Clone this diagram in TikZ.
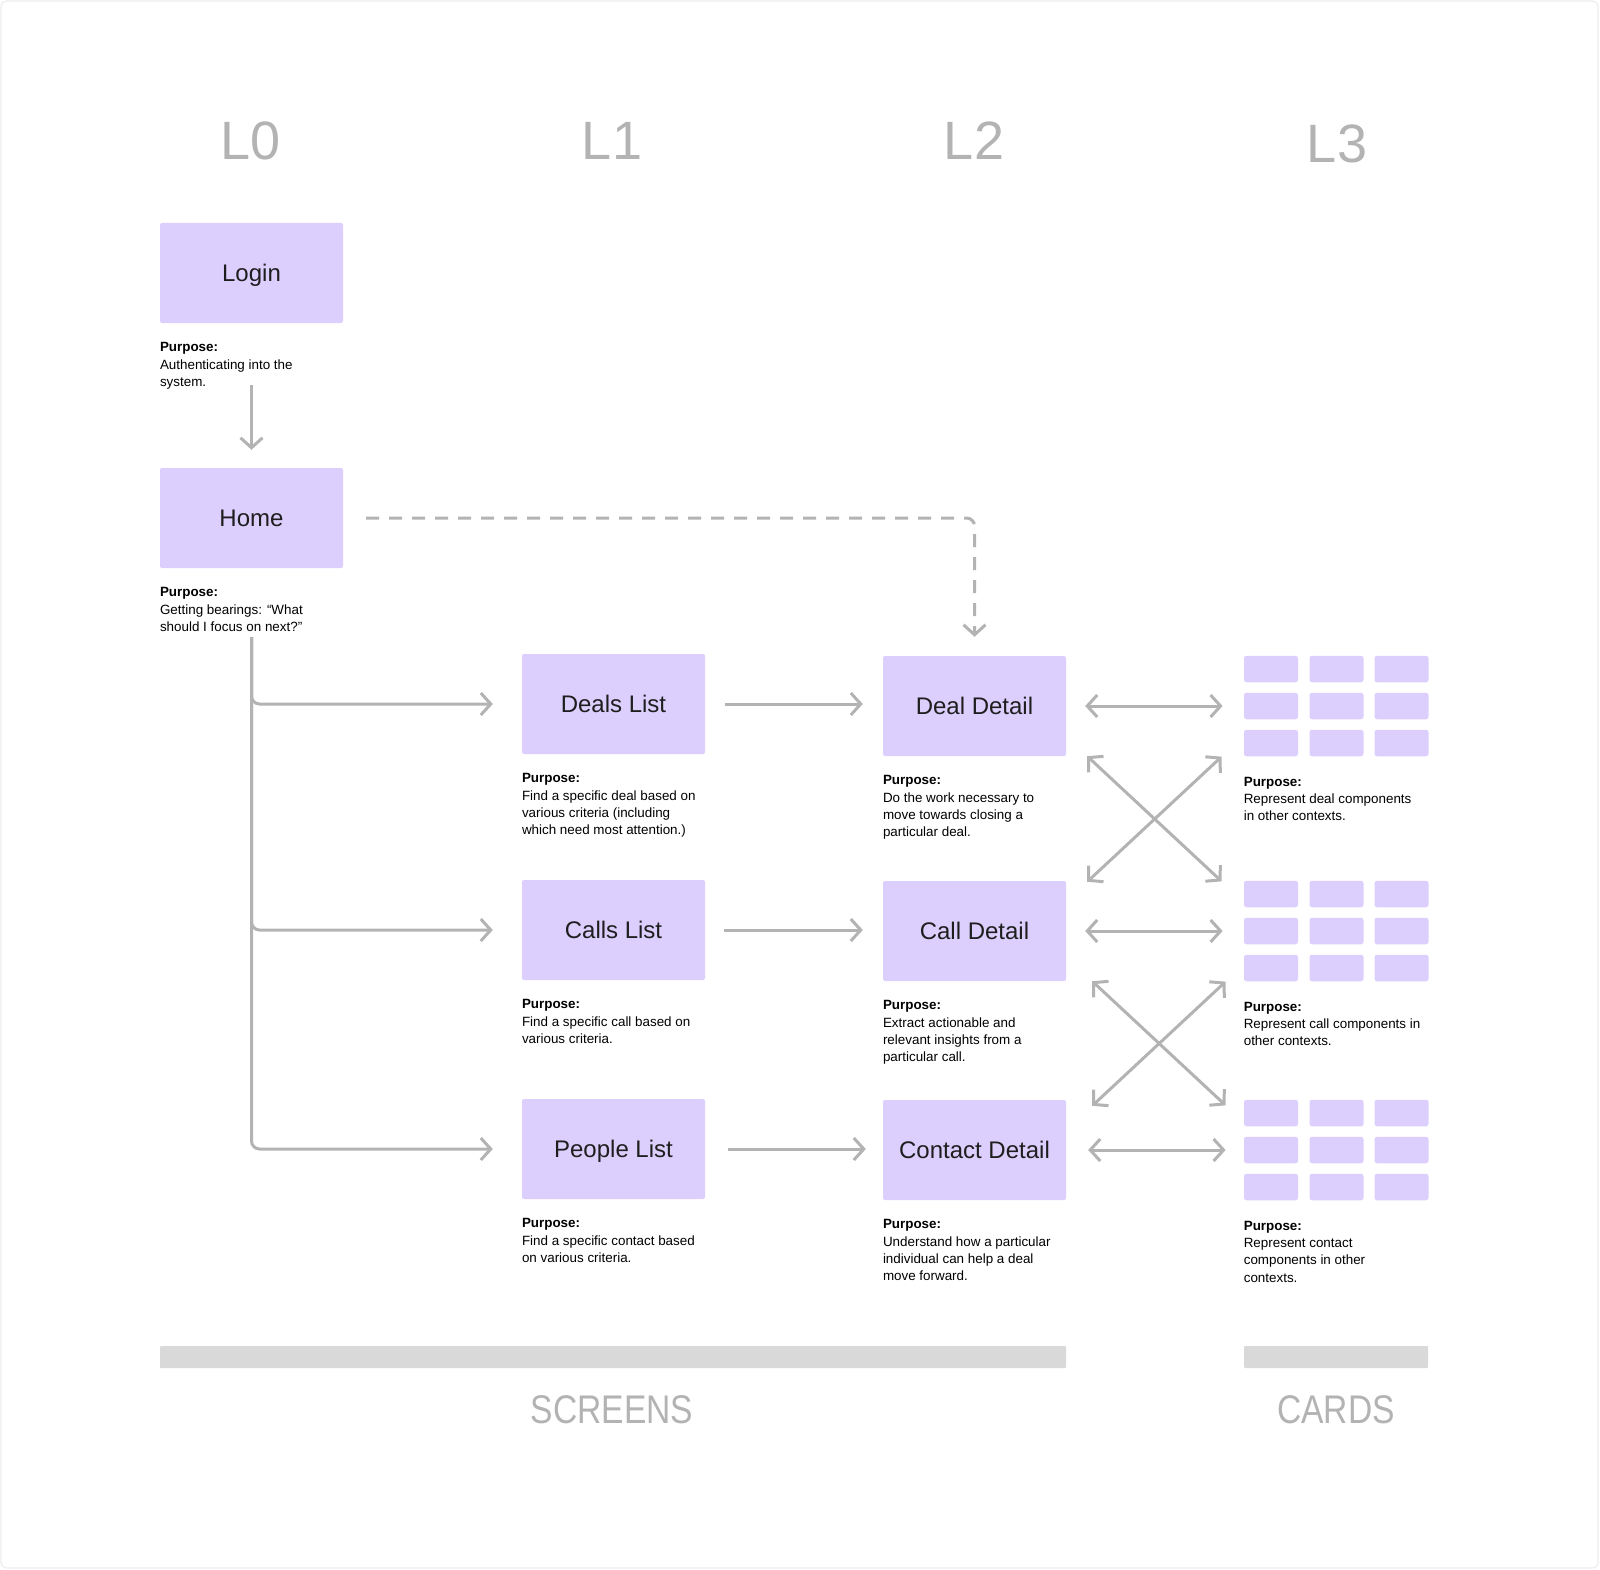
\documentclass[tikz,border=0pt]{standalone}
\usepackage{fontspec}
\usepackage{graphicx}
\setmainfont{Liberation Sans}
\usetikzlibrary{arrows.meta,fit,calc}
\definecolor{boxfill}{HTML}{DDCFFD}
\definecolor{arrgray}{HTML}{B3B3B3}
\definecolor{hdrgray}{HTML}{B3B3B3}
\definecolor{bargray}{HTML}{D9D9D9}
\definecolor{txtdark}{HTML}{1E1E1E}
\definecolor{framegray}{HTML}{EDEDED}
\tikzset{
  screen/.style={rectangle, fill=boxfill, minimum width=183pt, minimum height=100pt,
    rounded corners=2pt, inner sep=0pt, text=txtdark, text depth=0pt, font=\fontsize{24}{28}\selectfont},
  card/.style={rectangle, fill=boxfill, minimum width=54pt, minimum height=26.5pt,
    rounded corners=2.5pt, inner sep=0pt},
  purp/.style={anchor=north west, align=left, inner sep=0pt, text=black,
    font=\fontsize{13.4}{17.4}\selectfont},
  hdr/.style={text=hdrgray, font=\fontsize{54}{60}\selectfont, inner sep=0pt},
  foot/.style={text=hdrgray, font=\fontsize{40}{44}\selectfont, inner sep=0pt},
  arr/.style={draw=arrgray, line width=3pt, -{Straight Barb[length=10pt,width=22pt]}},
  darr/.style={draw=arrgray, line width=3pt, {Straight Barb[length=10pt,width=22pt]}-{Straight Barb[length=10pt,width=22pt]}},
}
\begin{document}
\begin{tikzpicture}[x=1pt, y=-1pt]
\useasboundingbox (0,0) rectangle (1600,1570);
\draw[framegray, line width=1.2pt, rounded corners=6pt] (1,1) rectangle (1598,1568);

% headers
\node[hdr] (h0) at (251,141) {L0};
\node[hdr] (h1) at (612,141) {L1};
\node[hdr] (h2) at (974,141) {L2};
\node[hdr] (h3) at (1337,144) {L3};

% L0
\node[screen] (login) at (251.5,273) {Login};
\node[purp] (plogin) at ([yshift=-19pt]login.south west) {\textbf{Purpose:}\\Authenticating into the\\system.};
\node[screen] (home) at (251.5,518) {Home};
\node[purp] (phome) at ([yshift=-19pt]home.south west) {\textbf{Purpose:}\\Getting bearings: “What\\should I focus on next?”};

% L1
\node[screen] (deals) at (613.5,704) {Deals List};
\node[purp] at ([yshift=-19pt]deals.south west) {\textbf{Purpose:}\\Find a specific deal based on\\various criteria (including\\which need most attention.)};
\node[screen] (calls) at (613.5,930) {Calls List};
\node[purp] at ([yshift=-19pt]calls.south west) {\textbf{Purpose:}\\Find a specific call based on\\various criteria.};
\node[screen] (people) at (613.5,1149) {People List};
\node[purp] at ([yshift=-19pt]people.south west) {\textbf{Purpose:}\\Find a specific contact based\\on various criteria.};

% L2
\node[screen] (deal) at (974.5,706) {Deal Detail};
\node[purp] at ([yshift=-19pt]deal.south west) {\textbf{Purpose:}\\Do the work necessary to\\move towards closing a\\particular deal.};
\node[screen] (call) at (974.5,931) {Call Detail};
\node[purp] at ([yshift=-19pt]call.south west) {\textbf{Purpose:}\\Extract actionable and\\relevant insights from a\\particular call.};
\node[screen] (contact) at (974.5,1150) {Contact Detail};
\node[purp] at ([yshift=-19pt]contact.south west) {\textbf{Purpose:}\\Understand how a particular\\individual can help a deal\\move forward.};

% L3 card groups
\foreach \g/\cy in {1/706,2/931,3/1150} {
  \foreach \r/\dy in {1/-37,2/0,3/37} {
    \foreach \c/\cx in {1/1271,2/1336.5,3/1401.5} {
      \node[card] (c\g\r\c) at (\cx,\cy+\dy) {};
    }
  }
  \node[fit=(c\g11)(c\g33), inner sep=0pt] (g\g) {};
}
\node[purp] at ([yshift=-20pt]g1.south west) {\textbf{Purpose:}\\Represent deal components\\in other contexts.};
\node[purp] at ([yshift=-20pt]g2.south west) {\textbf{Purpose:}\\Represent call components in\\other contexts.};
\node[purp] at ([yshift=-20pt]g3.south west) {\textbf{Purpose:}\\Represent contact\\components in other\\contexts.};

% connectors
\draw[arr] ([yshift=-62pt]login.south) -- ([yshift=18pt]home.north);
\draw[arr, dash pattern=on 13pt off 10pt, rounded corners=8pt] ([xshift=23pt]home.east) -| ([yshift=19pt]deal.north);

\coordinate (trunk) at ([yshift=-69pt]home.south);
\draw[arr, rounded corners=8pt] (trunk) |- ([xshift=-29pt]deals.west);
\draw[arr, rounded corners=8pt] (trunk) |- ([xshift=-29pt]calls.west);
\draw[arr, rounded corners=8pt] (trunk) |- ([xshift=-29pt]people.west);

\draw[arr] ([xshift=20pt]deals.east) -- ([xshift=-20pt]deals.east -| deal.west);
\draw[arr] ([xshift=19pt]calls.east) -- ([xshift=-20pt]calls.east -| call.west);
\draw[arr] ([xshift=23pt]people.east) -- ([xshift=-17pt]people.east -| contact.west);

\draw[darr] ([xshift=19pt]deal.east) -- ([xshift=-21pt]deal.east -| g1.west);
\draw[darr] ([xshift=19pt]call.east) -- ([xshift=-21pt]call.east -| g2.west);
\draw[darr] ([xshift=22pt]contact.east) -- ([xshift=-18pt]contact.east -| g3.west);

\draw[darr] ([xshift=21pt]deal.south east) -- ([xshift=-22pt,yshift=-1pt]g2.north west);
\draw[darr] ([xshift=-22pt]g1.south west) -- ([xshift=21pt,yshift=-1pt]call.north east);
\draw[darr] ([xshift=26pt]call.south east) -- ([xshift=-18pt,yshift=-6pt]g3.north west);
\draw[darr] ([xshift=-18pt]g2.south west) -- ([xshift=26pt,yshift=-6pt]contact.north east);

% bottom bars
\node[fill=bargray, rounded corners=1pt, inner sep=0pt, minimum height=22pt, fit={(160,1346)(1066,1368)}] (sbar) {};
\node[fill=bargray, rounded corners=1pt, inner sep=0pt, minimum height=22pt, fit={(1244,1346)(1428,1368)}] (cbar) {};
\node[foot] (screens) at (612,1410) {\scalebox{0.84}[1]{SCREENS}};
\node[foot] (cards) at (1336,1410) {\scalebox{0.84}[1]{CARDS}};
\end{tikzpicture}
\end{document}
